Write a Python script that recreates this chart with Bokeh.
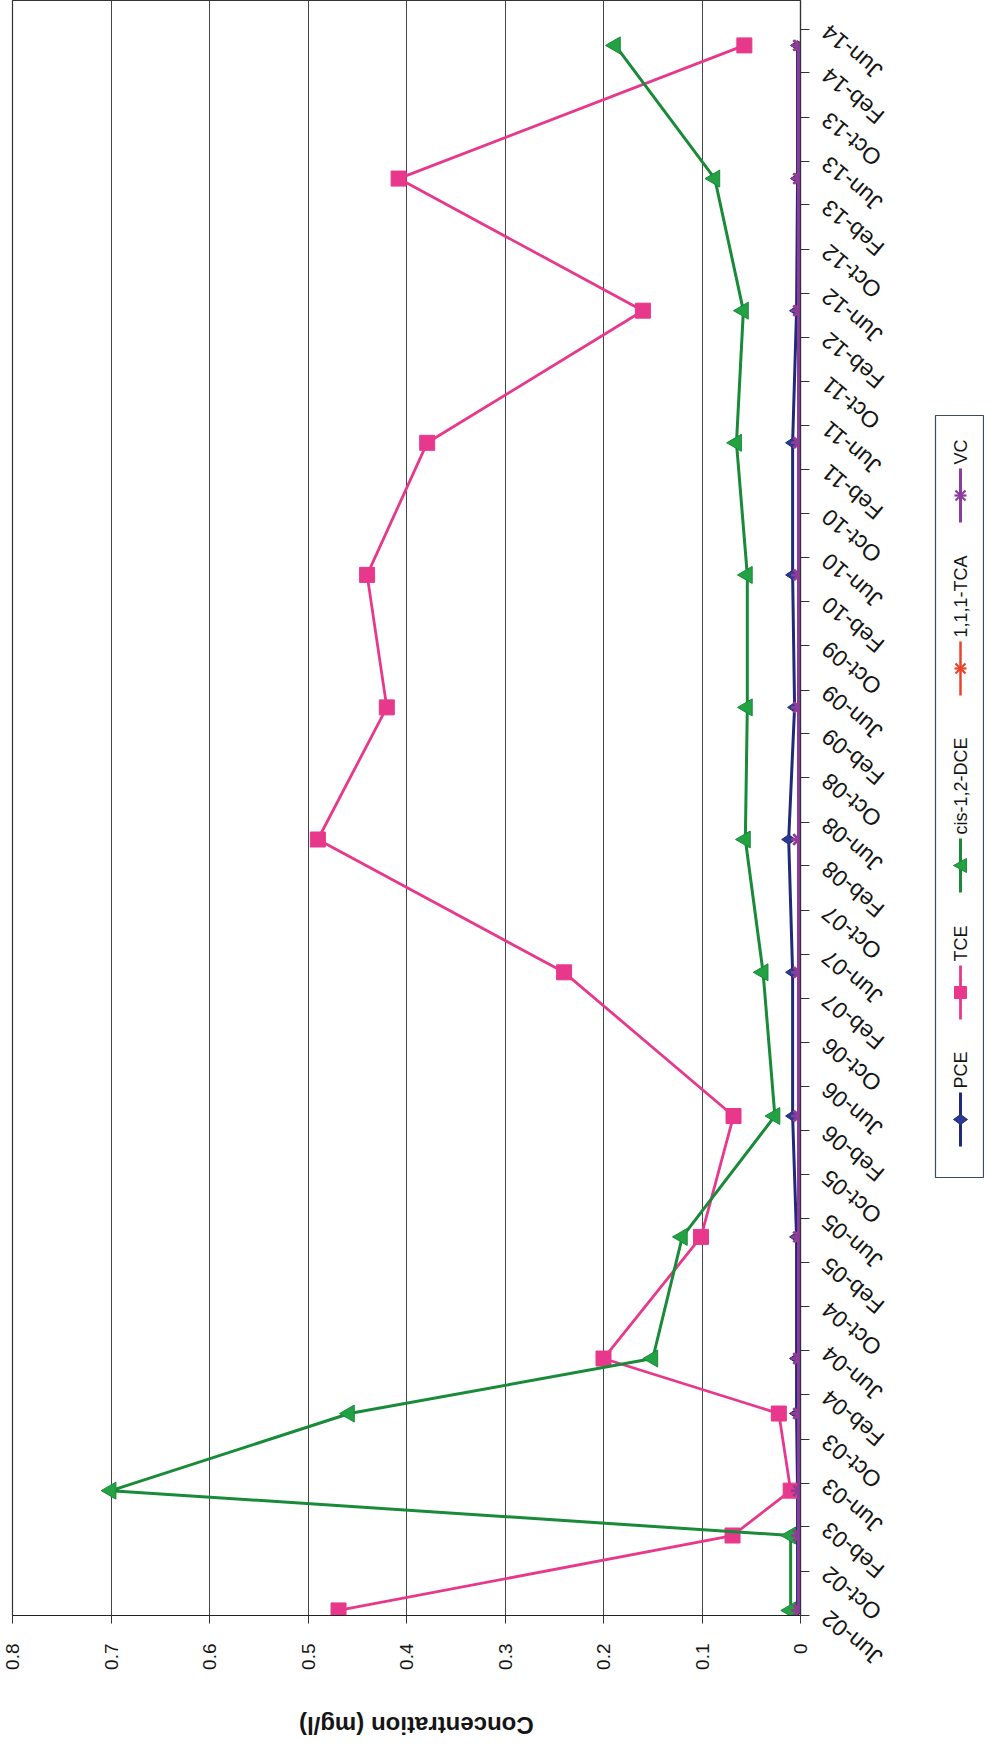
import math
from datetime import datetime
from bokeh.plotting import figure
from bokeh.models import Range1d, FixedTicker, ColumnDataSource
from bokeh.core.properties import value
from bokeh.embed import file_html
from bokeh.resources import INLINE

# ---------------- data ----------------
sample_dates = [datetime(2002, 6, 15), datetime(2003, 1, 8), datetime(2003, 5, 12),
                datetime(2003, 12, 11), datetime(2004, 5, 11), datetime(2005, 4, 12),
                datetime(2006, 3, 12), datetime(2007, 4, 13), datetime(2008, 4, 14),
                datetime(2009, 4, 14), datetime(2010, 4, 15), datetime(2011, 4, 15),
                datetime(2012, 4, 14), datetime(2013, 4, 14), datetime(2014, 4, 17)]

pce = [0.003, 0.003, 0.003, 0.004, 0.004, 0.004, 0.008, 0.008, 0.012, 0.006, 0.008, 0.008, 0.004, 0.003, 0.003]
tce = [0.469, 0.069, 0.010, 0.022, 0.200, 0.101, 0.068, 0.240, 0.490, 0.420, 0.440, 0.379, 0.160, 0.408, 0.057]
cis12dce = [0.010, 0.010, 0.700, 0.458, 0.150, 0.120, 0.026, 0.038, 0.056, 0.054, 0.054, 0.065, 0.058, 0.087, 0.188]
tca111 = [0.001, 0.001, 0.001, 0.001, 0.001, 0.001, 0.001, 0.001, 0.002, 0.001, 0.001, 0.001, 0.001, 0.001, 0.001]
vc = [0.002, 0.002, 0.002, 0.002, 0.002, 0.002, 0.002, 0.002, 0.002, 0.002, 0.002, 0.002, 0.002, 0.002, 0.002]

series_names = ["PCE", "TCE", "cis-1,2-DCE", "1,1,1-TCA", "VC"]

conc_ticks = [0.0, 0.1, 0.2, 0.3, 0.4, 0.5, 0.6, 0.7, 0.8]

date_tick_labels = ["Jun-02", "Oct-02", "Feb-03", "Jun-03", "Oct-03", "Feb-04", "Jun-04",
                    "Oct-04", "Feb-05", "Jun-05", "Oct-05", "Feb-06", "Jun-06", "Oct-06",
                    "Feb-07", "Jun-07", "Oct-07", "Feb-08", "Jun-08", "Oct-08", "Feb-09",
                    "Jun-09", "Oct-09", "Feb-10", "Jun-10", "Oct-10", "Feb-11", "Jun-11",
                    "Oct-11", "Feb-12", "Jun-12", "Oct-12", "Feb-13", "Jun-13", "Oct-13",
                    "Feb-14", "Jun-14"]

axis_title = "Concentration (mg/l)"

# ---------------- helpers ----------------
EPOCH = datetime(1970, 1, 1)


def ms(d):
    return (d - EPOCH).total_seconds() * 1000.0


date_ticks = [ms(datetime.strptime(s, "%b-%y")) for s in date_tick_labels]
y_start = datetime(2002, 6, 1)
y_end = datetime(2014, 8, 19)

FONT = value("Liberation Sans")

FRAME_L, FRAME_R, FRAME_T, FRAME_B = 20, 808, 8, 1623   # page pixels
W, H = 984, 1738
p = figure(width=W, height=H, output_backend="svg", toolbar_location=None,
           x_range=Range1d(0.8, 0.0), y_range=Range1d(ms(y_start), ms(y_end)),
           y_axis_type="datetime", y_axis_location="right",
           min_border_left=FRAME_L - 8, min_border_right=W + 8 - FRAME_R,
           min_border_top=FRAME_T - 8, min_border_bottom=H + 8 - FRAME_B)

p.background_fill_color = "white"
p.border_fill_color = "white"
p.outline_line_color = "#333333"
p.outline_line_width = 1.2

# extra pixel-like ranges used only for the hand-built legend (page coordinates)
p.extra_x_ranges = {"px": Range1d(FRAME_L, FRAME_R)}
p.extra_y_ranges = {"py": Range1d(FRAME_B, FRAME_T)}

# concentration axis (bottom)
xa = p.xaxis[0]
xa.ticker = FixedTicker(ticks=conc_ticks)
xa.major_label_overrides = {0: "0"}
xa.major_label_orientation = math.pi / 2
xa.major_label_standoff = 20
xa.major_tick_out = 8
xa.major_tick_in = 0
xa.minor_tick_out = 0
xa.minor_tick_in = 0
xa.major_label_text_font = "Liberation Sans"
xa.major_label_text_font_size = "19px"
xa.major_label_text_color = "#151515"
xa.axis_line_color = "#222222"
xa.axis_line_width = 1.2
xa.major_tick_line_color = "#333333"

# date axis (right) - ticks only; the slanted labels are drawn below
ya = p.yaxis[0]
ya.ticker = FixedTicker(ticks=date_ticks)
ya.major_tick_out = 9
ya.major_tick_in = 0
ya.minor_tick_out = 0
ya.minor_tick_in = 0
ya.major_label_text_color = None
ya.axis_line_color = "#333333"
ya.axis_line_width = 1.2
ya.major_tick_line_color = "#333333"

p.xgrid.ticker = FixedTicker(ticks=conc_ticks)
p.xgrid.grid_line_color = "#454545"
p.xgrid.grid_line_width = 1
p.ygrid.visible = False

# ---------------- series ----------------
styles = {
    "PCE": dict(color="#1f2a7a", fill="#2a3a94", markers=["diamond"], size=14, angle=math.pi / 2, lw=3),
    "TCE": dict(color="#e8388c", fill="#e8388c", markers=["square"], size=15, angle=0.0, lw=2.8),
    "cis-1,2-DCE": dict(color="#188a38", fill="#22a243", markers=["triangle"], size=17, angle=math.pi / 2, lw=3),
    "1,1,1-TCA": dict(color="#e8432b", fill="#e8432b", markers=["x", "dash"], size=14, angle=0.0, lw=2.5),
    "VC": dict(color="#8b3d9c", fill="#8b3d9c", markers=["x", "dash"], size=15, angle=0.0, lw=3),
}

src = ColumnDataSource(dict(date=[ms(d) for d in sample_dates], PCE=pce, TCE=tce,
                            CIS=cis12dce, TCA=tca111, VC=vc))
cols = {"PCE": "PCE", "TCE": "TCE", "cis-1,2-DCE": "CIS", "1,1,1-TCA": "TCA", "VC": "VC"}

for name in series_names:
    st = styles[name]
    p.line(x=cols[name], y="date", source=src, line_color=st["color"], line_width=st["lw"])
    for mk in st["markers"]:
        p.scatter(x=cols[name], y="date", source=src, marker=mk, size=st["size"], angle=st["angle"],
                  fill_color=st["fill"], line_color=st["color"], line_width=2.5 if mk in ("x", "dash") else 1)

# ---------------- slanted date tick labels (upside down, as in the scan) ----------------
LABEL_X = -0.025          # just right of the 0 axis line (x range is reversed)
lab_src = ColumnDataSource(dict(x=[LABEL_X] * len(date_ticks), y=date_ticks, t=date_tick_labels))
p.text(x="x", y="y", text="t", source=lab_src, angle=math.radians(140), text_align="right",
       text_baseline="middle", text_font=FONT, text_font_size="23px",
       text_color="#151515", level="overlay")

# ---------------- axis title (upside down) ----------------
TITLE_X = 0.39
p.text(x=[TITLE_X], y=[ms(y_start)], text=[axis_title], angle=math.pi, text_align="center",
       text_baseline="middle", y_offset=110, text_font=FONT, text_font_size="24px",
       text_font_style="bold", text_color="#151515", level="overlay")

# ---------------- legend (vertical strip, rotated text) ----------------
LEG = dict(x_range_name="px", y_range_name="py", level="overlay")
p.quad(left=[943], right=[991], top=[423], bottom=[1185], fill_color="white",
       line_color="#3b4a66", line_width=1.2, **LEG)
LEG_X = 968
leg_sym_y = [1127, 1000, 873, 676, 503]
leg_text_y = [1096, 969, 842, 645, 472]


def legend_symbol(name, cx, cy):
    st = styles[name]
    c, f = st["color"], st["fill"]
    mk = st["markers"][0]
    if mk == "diamond":
        p.patch(x=[cx - 7, cx, cx + 7, cx], y=[cy, cy - 5, cy, cy + 5], fill_color=f, line_color=c, **LEG)
    elif mk == "square":
        p.patch(x=[cx - 6, cx + 6, cx + 6, cx - 6], y=[cy - 6, cy - 6, cy + 6, cy + 6],
                fill_color=f, line_color=c, **LEG)
    elif mk == "triangle":
        p.patch(x=[cx - 7, cx + 6, cx + 6], y=[cy, cy - 7, cy + 7], fill_color=f, line_color=c, **LEG)
    else:
        for (x0, y0, x1, y1) in [(-5, -5, 5, 5), (-5, 5, 5, -5), (-6, 0, 6, 0)]:
            p.line(x=[cx + x0, cx + x1], y=[cy + y0, cy + y1], line_color=c, line_width=2.2, **LEG)


for name, cy, ty in zip(series_names, leg_sym_y, leg_text_y):
    st = styles[name]
    p.line(x=[LEG_X, LEG_X], y=[cy - 27, cy + 27], line_color=st["color"], line_width=st["lw"], **LEG)
    legend_symbol(name, LEG_X, cy)
    p.text(x=[LEG_X], y=[ty], text=[name], angle=math.pi / 2, text_align="left",
           text_baseline="middle", text_font=FONT, text_font_size="18px", text_color="#151515", **LEG)

open("out.html", "w").write(file_html(p, INLINE))
